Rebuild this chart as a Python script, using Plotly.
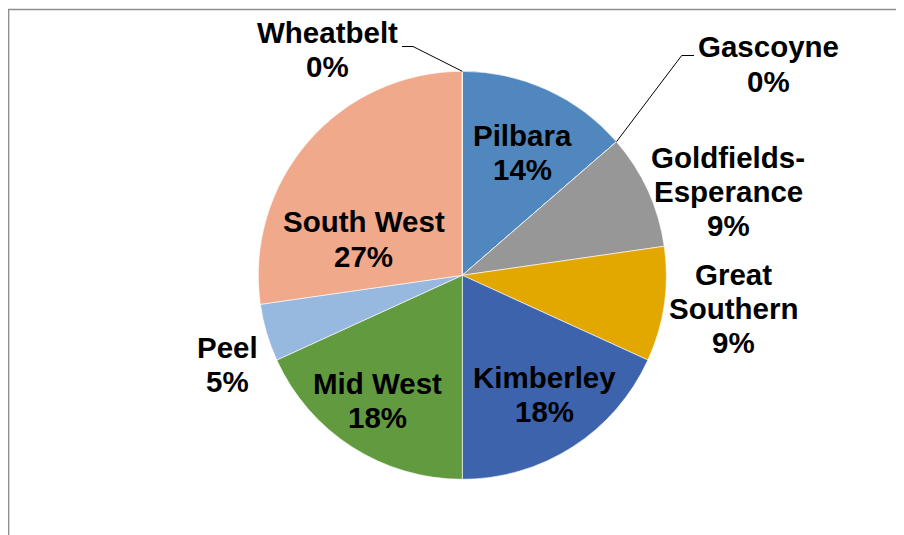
import math
import plotly.graph_objects as go

# ---- data ----
regions = ["Pilbara", "Gascoyne", "Goldfields-Esperance", "Great Southern",
           "Kimberley", "Mid West", "Peel", "South West", "Wheatbelt"]
counts = [3, 0, 2, 2, 4, 4, 1, 6, 0]
colors = ["#4F87BE", "#7F7F7F", "#979797", "#E3A800", "#3D63AD",
          "#629A3F", "#97B8DF", "#F0A98A", "#A5A5A5"]
# label lines as shown on the chart
label_lines = {
    "Pilbara": ["Pilbara"],
    "Gascoyne": ["Gascoyne"],
    "Goldfields-Esperance": ["Goldfields-", "Esperance"],
    "Great Southern": ["Great", "Southern"],
    "Kimberley": ["Kimberley"],
    "Mid West": ["Mid West"],
    "Peel": ["Peel"],
    "South West": ["South West"],
    "Wheatbelt": ["Wheatbelt"],
}
# label anchor (page-pixel centre of first line)
label_pos = {
    "Pilbara": (522, 134.5),
    "Gascoyne": (768, 46),
    "Goldfields-Esperance": (728, 156.5),
    "Great Southern": (733.5, 273),
    "Kimberley": (544.5, 376),
    "Mid West": (377.5, 382.5),
    "Peel": (227, 346.5),
    "South West": (363.5, 221),
    "Wheatbelt": (327, 31.5),
}
LINE_STEP = 34.0

OFF = 8  # page body margin
W, H = 904 - OFF, 535 - OFF
CX, CY, R = 462.3, 275.3, 204.0

def X(px):
    return (px - OFF) / W

def Y(py):
    return 1 - (py - OFF) / H

total = sum(counts)
pcts = [round(c / total * 100) for c in counts]

fig = go.Figure(go.Pie(
    labels=regions, values=counts, sort=False, direction="clockwise",
    rotation=0, textinfo="none", hoverinfo="label+percent",
    marker=dict(colors=colors, line=dict(color="white", width=0.6)),
    domain=dict(x=[X(CX - R), X(CX + R)], y=[Y(CY + R), Y(CY - R)]),
    showlegend=False,
))

annotations = []
font = dict(family="Liberation Sans, Arial, sans-serif", size=29.5, color="black", weight="bold")
for name, pct in zip(regions, pcts):
    lines = label_lines[name] + [f"{pct}%"]
    px, py = label_pos[name]
    for i, t in enumerate(lines):
        annotations.append(dict(
            x=X(px), y=Y(py + i * LINE_STEP + 1), xref="paper", yref="paper",
            text=t, showarrow=False, xanchor="center", yanchor="middle", font=font,
        ))

shapes = []
# leader lines for zero slices, ending at the slice's angle on the rim
cum = 0
elbows = {"Gascoyne": [(694, 55.5), (681.7, 55.5)],
          "Wheatbelt": [(402, 46.5), (413, 46.5)]}
for name, c in zip(regions, counts):
    if name in elbows:
        ang = math.radians(cum / total * 360)
        ex, ey = CX + R * math.sin(ang), CY - R * math.cos(ang)
        pts = elbows[name] + [(ex, ey)]
        for (x0, y0), (x1, y1) in zip(pts[:-1], pts[1:]):
            shapes.append(dict(type="line", xref="paper", yref="paper",
                               x0=X(x0), y0=Y(y0), x1=X(x1), y1=Y(y1),
                               line=dict(color="black", width=1)))
    cum += c

# chart frame border
shapes.append(dict(type="rect", xref="paper", yref="paper",
                   x0=0.6 / W, y0=-0.05, x1=1.05, y1=Y(9.5),
                   line=dict(color="#8E8E8E", width=1.5), fillcolor="rgba(0,0,0,0)"))

fig.update_layout(
    width=W, height=H, margin=dict(l=0, r=0, t=0, b=0),
    paper_bgcolor="white", plot_bgcolor="white",
    annotations=annotations, shapes=shapes,
)
fig.write_html("out.html")
